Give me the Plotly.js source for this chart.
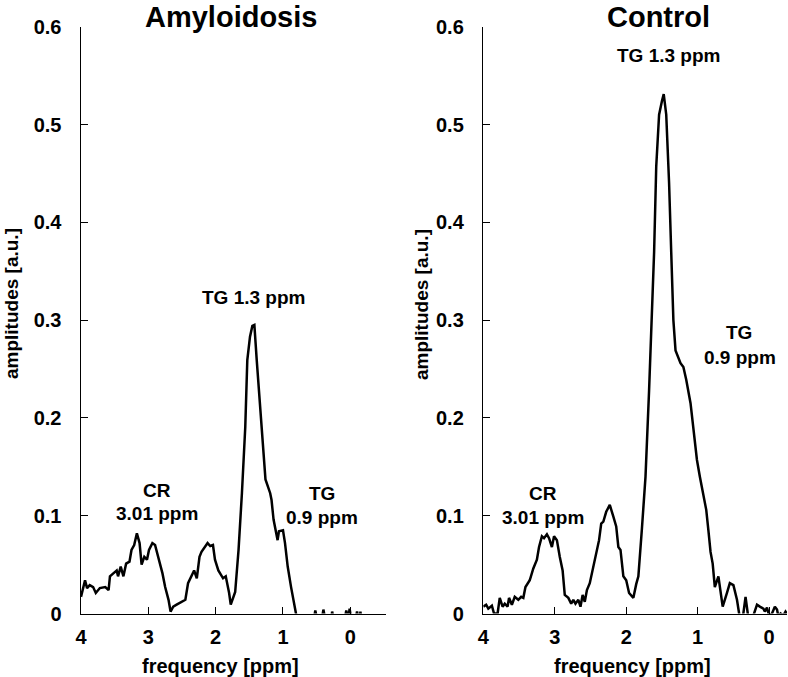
<!DOCTYPE html>
<html>
<head>
<meta charset="utf-8">
<script src="https://cdn.plot.ly/plotly-3.0.1.min.js"></script>
<style>
html,body{margin:0;padding:0;background:#fff;}
#chart{width:788px;height:677px;}
</style>
</head>
<body>
<div id="chart"></div>
<script>
// ---- Data ----
const panelTitles = ["Amyloidosis", "Control"];
const xTickVals = [4, 3, 2, 1, 0];
const xTickText = ["4", "3", "2", "1", "0"];
const yTickVals = [0, 0.1, 0.2, 0.3, 0.4, 0.5, 0.6];
const yTickText = ["0", "0.1", "0.2", "0.3", "0.4", "0.5", "0.6"];

// Amyloidosis spectrum: frequency [ppm] and amplitude [a.u.]
const amyPpm = [4.00,3.94,3.91,3.87,3.82,3.78,3.72,3.64,3.59,3.57,3.52,3.47,3.45,3.41,3.37,3.33,3.28,3.25,3.21,3.17,3.13,3.10,3.06,3.02,2.99,2.94,2.90,2.87,2.83,2.79,2.75,2.70,2.67,2.63,2.58,2.50,2.45,2.41,2.36,2.32,2.28,2.24,2.21,2.16,2.12,2.08,2.04,2.01,1.96,1.89,1.85,1.80,1.776,1.71,1.66,1.61,1.56,1.53,1.49,1.455,1.425,1.39,1.34,1.29,1.26,1.19,1.17,1.14,1.08,1.06,1.00,0.97,0.93,0.88,0.83,0.81,0.78,0.55,0.52,0.48,0.43,0.40,0.36,0.28,0.27,0.25,0.08,0.06,0.03,0.01,-0.01,-0.08,-0.10,-0.12,-0.14,-0.15,-0.17,-0.52];
const amyAmp = [0.017,0.034,0.026,0.029,0.027,0.021,0.026,0.027,0.024,0.038,0.041,0.044,0.038,0.048,0.038,0.051,0.053,0.065,0.070,0.082,0.072,0.050,0.058,0.055,0.065,0.072,0.070,0.062,0.051,0.041,0.027,0.014,0.002,0.007,0.009,0.012,0.014,0.031,0.038,0.044,0.036,0.058,0.063,0.068,0.072,0.069,0.070,0.055,0.044,0.036,0.038,0.021,0.009,0.022,0.065,0.123,0.191,0.259,0.283,0.294,0.295,0.259,0.208,0.157,0.137,0.123,0.116,0.096,0.075,0.084,0.085,0.072,0.048,0.027,0.010,0.004,-0.010,-0.010,0.003,-0.010,-0.010,0.004,-0.010,-0.005,0.002,-0.005,-0.005,0.003,-0.005,0.005,-0.005,-0.005,0.002,-0.005,-0.005,0.002,-0.010,-0.010];

// Control spectrum
const ctlPpm = [4.00,3.96,3.93,3.88,3.85,3.80,3.77,3.73,3.70,3.66,3.64,3.60,3.56,3.51,3.47,3.44,3.41,3.35,3.30,3.25,3.22,3.18,3.15,3.11,3.08,3.04,3.01,2.97,2.93,2.89,2.86,2.81,2.77,2.74,2.71,2.67,2.64,2.61,2.58,2.55,2.51,2.46,2.42,2.38,2.35,2.32,2.28,2.23,2.18,2.14,2.11,2.08,2.04,2.00,1.96,1.93,1.90,1.86,1.83,1.78,1.73,1.68,1.64,1.61,1.58,1.54,1.50,1.475,1.44,1.40,1.37,1.34,1.31,1.27,1.24,1.20,1.16,1.10,1.06,1.01,0.97,0.92,0.88,0.85,0.82,0.79,0.76,0.71,0.69,0.65,0.59,0.55,0.50,0.45,0.42,0.40,0.37,0.33,0.29,0.26,0.22,0.17,0.13,0.08,0.06,0.03,0.00,-0.04,-0.08,-0.11,-0.13,-0.16,-0.20,-0.23,-0.25];
const ctlAmp = [0.007,0.009,0.005,0.008,0.000,0.000,0.016,0.007,0.010,0.007,0.016,0.009,0.017,0.014,0.017,0.016,0.027,0.034,0.046,0.055,0.068,0.079,0.077,0.081,0.077,0.068,0.079,0.075,0.058,0.044,0.019,0.016,0.010,0.014,0.010,0.014,0.007,0.019,0.012,0.024,0.031,0.048,0.060,0.075,0.092,0.094,0.104,0.111,0.099,0.089,0.068,0.065,0.038,0.034,0.021,0.019,0.016,0.030,0.038,0.087,0.140,0.228,0.299,0.369,0.457,0.510,0.524,0.531,0.510,0.440,0.369,0.300,0.269,0.262,0.256,0.252,0.239,0.215,0.188,0.157,0.140,0.119,0.106,0.085,0.063,0.051,0.027,0.038,0.027,0.007,0.021,0.031,0.029,0.014,0.000,-0.006,-0.005,0.017,-0.005,-0.005,-0.002,0.009,0.007,0.005,0.002,0.006,-0.002,0.000,0.007,0.004,-0.003,0.000,-0.002,0.002,0.000];

// ---- Layout helpers ----
const W = 788, H = 677;
const px = x => x / W;
const py = y => 1 - y / H;
const FONT = "Liberation Sans, Arial, Helvetica, sans-serif";

const lineStyle = {color: "#000", width: 2.5};
const traces = [
  {x: amyPpm, y: amyAmp, type: "scatter", mode: "lines", line: lineStyle, xaxis: "x", yaxis: "y", hoverinfo: "skip"},
  {x: ctlPpm, y: ctlAmp, type: "scatter", mode: "lines", line: lineStyle, xaxis: "x2", yaxis: "y2", hoverinfo: "skip"}
];

const tickFont = {family: FONT, size: 20, color: "#000", weight: "bold"};
function xAxis(domain, range, anchor) {
  return {domain, range, anchor, tickvals: xTickVals, ticktext: xTickText,
    ticks: "inside", ticklen: 7, tickwidth: 1, tickcolor: "#000",
    showline: true, linecolor: "#000", linewidth: 1.5, showgrid: false, zeroline: false,
    tickfont: tickFont, ticklabelstandoff: 5, fixedrange: true};
}
function yAxis(domain, anchor) {
  return {domain, range: [0, 0.6], anchor, tickvals: yTickVals, ticktext: yTickText,
    ticks: "inside", ticklen: 7, tickwidth: 1, tickcolor: "#000",
    showline: true, linecolor: "#000", linewidth: 1.5, showgrid: false, zeroline: false,
    tickfont: tickFont, ticklabelstandoff: 14, fixedrange: true};
}

function ann(text, x, y, size, angle, yanchor) {
  return {text, x: px(x), y: py(y), xref: "paper", yref: "paper", xanchor: "center", yanchor: yanchor || "middle",
    showarrow: false, borderpad: 0, textangle: angle || 0, font: {family: FONT, size: size, color: "#000", weight: "bold"}};
}

const annotations = [
  ann(panelTitles[0], 231, 0, 29, 0, "top"),
  ann(panelTitles[1], 658, 0, 29, 0, "top"),
  ann("TG 1.3 ppm", 253, 297, 19),
  ann("CR", 157, 490, 19),
  ann("3.01 ppm", 157, 513, 19),
  ann("TG", 322, 493, 19),
  ann("0.9 ppm", 322, 517, 19),
  ann("TG 1.3 ppm", 668, 55, 19),
  ann("CR", 543, 493, 19),
  ann("3.01 ppm", 543, 517, 19),
  ann("TG", 739, 332, 19),
  ann("0.9 ppm", 740, 357, 19),
  ann("amplitudes [a.u.]", 11, 304, 19, -90),
  ann("amplitudes [a.u.]", 421, 305, 19, -90),
  ann("frequency [ppm]", 220, 666, 20),
  ann("frequency [ppm]", 632, 666, 20)
];

const layout = {
  width: W, height: H,
  margin: {l: 0, r: 0, t: 0, b: 0, pad: 0},
  paper_bgcolor: "#fff", plot_bgcolor: "#fff",
  showlegend: false,
  font: {family: FONT, color: "#000"},
  xaxis: xAxis([px(81), px(386)], [4, -0.53], "y"),
  yaxis: yAxis([py(613.5), py(26.7)], "x"),
  xaxis2: xAxis([px(483.3), px(787)], [4, -0.25], "y2"),
  yaxis2: yAxis([py(613.5), py(26.7)], "x2"),
  annotations
};

Plotly.newPlot("chart", traces, layout, {staticPlot: true, displayModeBar: false});
</script>
</body>
</html>
